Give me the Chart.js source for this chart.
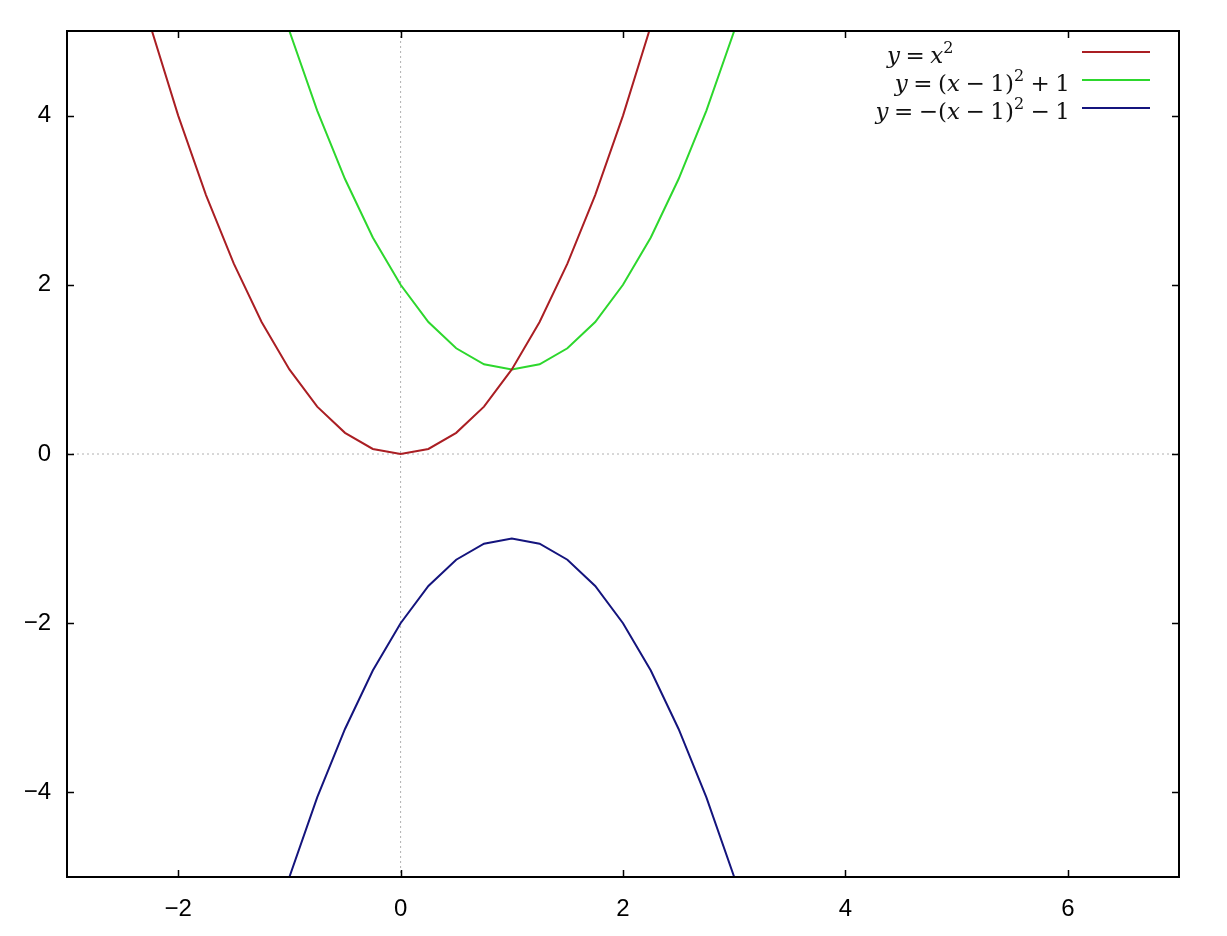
<!DOCTYPE html>
<html>
<head>
    <script src="https://cdn.jsdelivr.net/npm/chart.js"></script>
    <style>
        body { margin: 0; background: #fff; }
    </style>
</head>
<body>
    <canvas id="chart" width="1227" height="936"></canvas>
    <script>
        // values
        const redX = [-2.5, -2.25, -2.0, -1.75, -1.5, -1.25, -1.0, -0.75, -0.5, -0.25, 0, 0.25, 0.5, 0.75, 1.0, 1.25, 1.5, 1.75, 2.0, 2.25, 2.5];
        const redY = [6.25, 5.06, 4.0, 3.06, 2.25, 1.56, 1.0, 0.56, 0.25, 0.06, 0, 0.06, 0.25, 0.56, 1.0, 1.56, 2.25, 3.06, 4.0, 5.06, 6.25];
        const greenX = [-1.25, -1.0, -0.75, -0.5, -0.25, 0, 0.25, 0.5, 0.75, 1.0, 1.25, 1.5, 1.75, 2.0, 2.25, 2.5, 2.75, 3.0, 3.25];
        const greenY = [6.06, 5.0, 4.06, 3.25, 2.56, 2.0, 1.56, 1.25, 1.06, 1.0, 1.06, 1.25, 1.56, 2.0, 2.56, 3.25, 4.06, 5.0, 6.06];
        const blueY = [-6.06, -5.0, -4.06, -3.25, -2.56, -2.0, -1.56, -1.25, -1.06, -1.0, -1.06, -1.25, -1.56, -2.0, -2.56, -3.25, -4.06, -5.0, -6.06];
        const xTicks = [-2, 0, 2, 4, 6];
        const yTicks = [-4, -2, 0, 2, 4];

        const colors = ['rgb(170,30,35)', 'rgb(45,215,45)', 'rgb(20,20,125)'];

        // legend labels: i = italic, n = normal, o = operator (spaced), s = superscript
        const legendLabels = [
            [['y', 'i'], ['=', 'o'], ['x', 'i'], ['2', 's']],
            [['y', 'i'], ['=', 'o'], ['(', 'n'], ['x', 'i'], ['\u2212', 'o'], ['1)', 'n'], ['2', 's'], ['+', 'o'], ['1', 'n']],
            [['y', 'i'], ['=', 'o'], ['\u2212(', 'n'], ['x', 'i'], ['\u2212', 'o'], ['1)', 'n'], ['2', 's'], ['\u2212', 'o'], ['1', 'n']]
        ];

        const pairs = (xs, ys) => xs.map((x, i) => ({ x: x, y: ys[i] }));

        function fontFor(style) {
            if (style === 'i') return 'italic 23px "DejaVu Serif"';
            if (style === 's') return '16px "DejaVu Serif"';
            return '23px "DejaVu Serif"';
        }

        const opPad = 5.5;
        function partWidth(ctx, p) {
            ctx.font = fontFor(p[1]);
            return ctx.measureText(p[0]).width + (p[1] === 'o' ? 2 * opPad : 0) + (p[1] === 's' ? 1 : 0);
        }

        function drawMath(ctx, parts, x, y, align) {
            let w = 0;
            parts.forEach(p => { w += partWidth(ctx, p); });
            let cx = align === 'right' ? x - w : x;
            parts.forEach(p => {
                ctx.font = fontFor(p[1]);
                const off = p[1] === 'o' ? opPad : 0;
                ctx.fillText(p[0], cx + off, p[1] === 's' ? y - 10 : y);
                cx += partWidth(ctx, p);
            });
        }

        const framePlugin = {
            id: 'frame',
            beforeDatasetsDraw(chart) {
                const { ctx, chartArea: a, scales } = chart;
                ctx.save();
                ctx.strokeStyle = '#b0b0b0';
                ctx.lineWidth = 1;
                ctx.setLineDash([2, 3]);
                const x0 = scales.x.getPixelForValue(0);
                const y0 = scales.y.getPixelForValue(0);
                ctx.beginPath();
                ctx.moveTo(x0, a.top); ctx.lineTo(x0, a.bottom);
                ctx.moveTo(a.left, y0); ctx.lineTo(a.right, y0);
                ctx.stroke();
                ctx.restore();
            },
            afterDatasetsDraw(chart) {
                const { ctx, chartArea: a, scales } = chart;
                ctx.save();
                ctx.strokeStyle = '#000';
                ctx.lineWidth = 2;
                ctx.strokeRect(a.left, a.top, a.right - a.left, a.bottom - a.top);
                ctx.beginPath();
                xTicks.forEach(v => {
                    const px = Math.round(scales.x.getPixelForValue(v)) + 0.5;
                    ctx.moveTo(px, a.bottom); ctx.lineTo(px, a.bottom - 7);
                    ctx.moveTo(px, a.top); ctx.lineTo(px, a.top + 7);
                });
                yTicks.forEach(v => {
                    const py = Math.round(scales.y.getPixelForValue(v)) + 0.5;
                    ctx.moveTo(a.left, py); ctx.lineTo(a.left + 7, py);
                    ctx.moveTo(a.right, py); ctx.lineTo(a.right - 7, py);
                });
                ctx.lineWidth = 1.5;
                ctx.stroke();

                // legend
                ctx.textBaseline = 'alphabetic';
                ctx.fillStyle = '#111';
                legendLabels.forEach((parts, i) => {
                    const ly = 52 + i * 28;
                    if (i === 0) drawMath(ctx, parts, 887, ly + 11, 'left');
                    else drawMath(ctx, parts, 1070, ly + 11, 'right');
                    ctx.strokeStyle = colors[i];
                    ctx.lineWidth = 2;
                    ctx.beginPath();
                    ctx.moveTo(1082, ly); ctx.lineTo(1150, ly);
                    ctx.stroke();
                });
                ctx.restore();
            }
        };

        const tickFont = { family: '"Liberation Sans"', size: 24 };
        const minus = v => String(v).replace('-', '\u2212');

        new Chart(document.getElementById('chart').getContext('2d'), {
            type: 'line',
            data: {
                datasets: [
                    { data: pairs(redX, redY), borderColor: colors[0] },
                    { data: pairs(greenX, greenY), borderColor: colors[1] },
                    { data: pairs(greenX, blueY), borderColor: colors[2] }
                ]
            },
            options: {
                responsive: false,
                animation: false,
                layout: { padding: { top: 31, right: 48, left: 0, bottom: 0 } },
                elements: {
                    line: { borderWidth: 2, tension: 0 },
                    point: { radius: 0 }
                },
                plugins: { legend: { display: false }, tooltip: { enabled: false } },
                scales: {
                    x: {
                        type: 'linear',
                        min: -3,
                        max: 7,
                        afterBuildTicks: s => { s.ticks = xTicks.map(v => ({ value: v })); },
                        afterFit: s => { s.height = 59; },
                        grid: { display: false, drawTicks: false },
                        border: { display: false },
                        ticks: { padding: 18, color: '#000', font: tickFont, callback: minus, maxRotation: 0 }
                    },
                    y: {
                        type: 'linear',
                        min: -5,
                        max: 5,
                        afterBuildTicks: s => { s.ticks = yTicks.map(v => ({ value: v })); },
                        afterFit: s => { s.width = 67; },
                        grid: { display: false, drawTicks: false },
                        border: { display: false },
                        ticks: { padding: 16, color: '#000', font: tickFont, callback: minus }
                    }
                }
            },
            plugins: [framePlugin]
        });
    </script>
</body>
</html>
